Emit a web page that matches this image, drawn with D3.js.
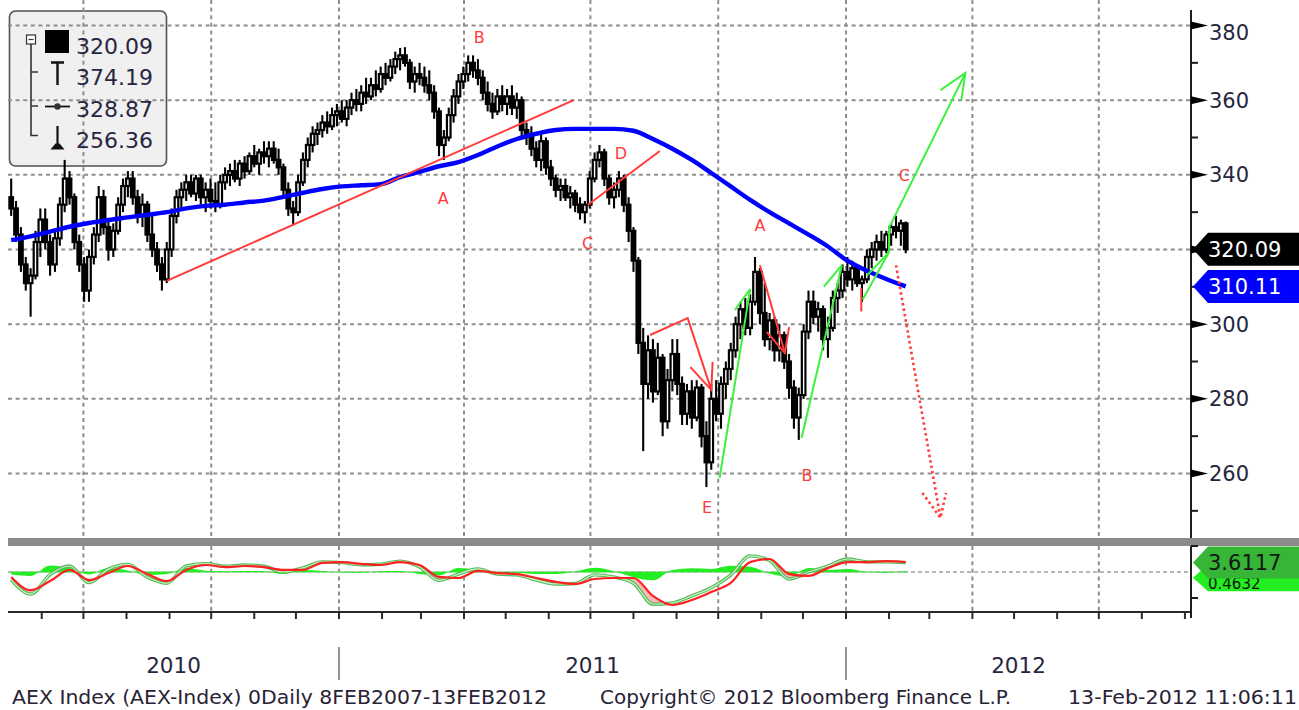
<!DOCTYPE html>
<html><head><meta charset="utf-8">
<script src="https://cdn.jsdelivr.net/npm/d3@7"></script>
<style>html,body{margin:0;padding:0;background:#fff;}svg{display:block;font-family:"DejaVu Sans",sans-serif;}</style>
</head><body>
<svg id="c" width="1299" height="710"></svg>
<script>
// ---------------- DATA ----------------
const candleStart = "2010-05-10";   // first bar (each bar = 3.5 calendar days)
const candleStepDays = 3.5;
const opens = [334,331,324,316,311,313,322,328,322,316, 323,332,339,334,322,316,309,318,324,334, 326,320,325,332,337,339,334,329,332,324, 320,316,312,320,329,334,336,338,335,339, 334,336,333,332,338,340,341,339,343,341, 345,343,346,345,347,344,342,336,331,330, 338,344,348,351,352,354,353,356,357,355, 358,360,359,362,361,364,363,367,366,369, 371,372,370,365,367,366,364,362,357,348, 350,356,361,365,367,370,368,366,362,359, 357,361,359,361,358,360,352,351,347,344, 349,342,339,336,337,334,335,332,330,332, 339,344,346,339,334,336,339,332,325,317, 295,284,293,282,291,274,285,292,284,276, 282,275,283,270,263,280,276,284,288,293, 300,304,299,306,314,303,296,301,293,297, 290,283,275,281,298,306,302,304,296,299, 307,309,314,312,315,311,312,318,320,322, 320,324,326,325,327];
const highs = [339,333,326,318,315,325,331,331,324,325, 334,344,341,335,324,318,320,326,337,336, 328,327,334,339,341,341,336,335,333,329, 322,318,322,331,336,338,340,340,340,340, 338,339,338,340,342,343,344,344,345,346, 348,347,349,349,349,347,343,338,333,340, 346,350,353,354,356,357,358,359,360,360, 362,363,364,366,366,368,369,370,371,373, 374,374.19,371,369,370,369,368,364,358,352, 358,363,367,369,372,372,371,368,365,362, 363,364,363,364,362,361,354,353,349,351, 350,344,340,339,339,337,336,334,333,341, 346,348,347,340,338,341,340,334,326,318, 299,297,296,295,292,288,296,296,286,284, 285,285,284,274,284,285,286,290,295,302, 306,307,308,318,315,311,303,302,300,298, 292,285,283,300,309,309,306,305,302,309, 311,316,318,317,316,313,320,322,324,325, 325,327,329,328,327.5];
const lows = [329,322,314,309,302,312,318,320,313,314, 321,330,332,320,314,306,306,316,322,324, 317,318,324,330,334,332,327,326,322,318, 314,309,311,318,327,331,333,334,333,332, 330,331,330,331,336,337,338,337,339,340, 342,340,343,342,343,340,334,329,326.5,329, 337,342,346,348,350,351,352,353,354,353, 356,357,357,359,360,361,362,364,365,367, 368,369,363,362,364,362,360,355,345,344, 349,354,359,363,365,366,364,360,357,355, 356,357,356,356,355,350,348,345,342,341, 340,337,334,333,333,331,330,328,327,331, 338,342,337,332,331,334,330,322,314,292, 266,280,279,281,270,272,282,281,273,273, 272,274,267,256.36,261,274,272,280,285,291, 296,297,297,305,300,294,293,290,290,288, 280,272,269,280,296,300,298,293,291,298, 303,307,310,309,310,306,311,315,317,318, 319,321,323,321,319];
const closes = [331,324,316,311,313,322,328,322,316,323, 332,339,334,322,316,309,318,324,334,326, 320,325,332,337,339,334,329,332,324,320, 316,312,320,329,334,336,338,335,339,334, 336,333,332,338,340,341,339,343,341,345, 343,346,345,347,344,342,336,331,330,338, 344,348,351,352,354,353,356,357,355,358, 360,359,362,361,364,363,367,366,369,371, 372,370,365,367,366,364,362,357,348,350, 356,361,365,367,370,368,366,362,359,357, 361,359,361,358,360,352,351,347,344,349, 342,339,336,337,334,335,332,330,332,339, 344,346,339,334,336,339,332,325,317,295, 284,293,282,291,274,285,292,284,276,282, 275,283,270,263,280,276,284,288,293,300, 304,299,306,314,303,296,301,293,297,290, 283,275,281,298,306,302,304,296,299,307, 309,314,312,315,311,312,318,320,322,320, 324,326,325,327,320.09];

// indicator series sampled every 4th bar
const indicatorStride = 4;
const maValues = [322.5,323.5,324.8,326.1,327.1,327.9,328.6,329.3,330.0,331.0, 331.7,332.0,332.6,333.1,334.1,335.2,336.2,336.9,337.2,337.5, 339.4,340.8,342.3,343.4,345.3,347.6,349.6,351.0,352.0,352.3, 352.3,352.3,351.8,349.6,347.0,344.0,340.5,336.9,333.3,330.0, 327.0,324.0,320.8,317.0,314.3,312.1,310.11];
const signalValues = [-1.9,-7.0,-3.5,0.8,-3.1,-0.4,2.3,-0.8,-3.5,0.8, 2.7,1.9,2.3,1.9,0.8,0.8,3.5,3.8,3.1,2.7, 3.8,2.7,-1.9,-2.3,0.4,-0.4,-0.8,-2.3,-3.8,-4.6, -2.7,-2.3,-2.3,-9.2,-12.7,-10.8,-7.7,-4.2,3.8,5.0, -0.8,-1.5,1.5,3.8,3.8,4.2,3.8];
const macdValues = [-2.9,-8.5,-1.0,2.3,-4.1,1.1,2.9,-2.0,-4.3,2.3, 3.2,2.2,2.7,2.2,0.0,1.6,3.9,3.6,2.8,3.0, 4.2,1.9,-3.2,-0.8,1.2,-0.8,-1.1,-3.1,-4.6,-4.4, -1.1,-2.0,-4.3,-12.4,-11.9,-9.2,-6.1,-1.2,6.2,4.4, -2.7,0.0,2.3,5.0,3.9,3.9,3.6117];
const histValues = [-1.0,-1.5,2.5,1.5,-1.0,1.5,0.6,-1.2,-0.8,1.5, 0.5,0.3,0.4,0.3,-0.8,0.8,0.4,-0.2,-0.3,0.3, 0.4,-0.8,-1.3,1.5,0.8,-0.4,-0.3,-0.8,-0.8,0.2, 1.6,0.3,-2.0,-3.2,0.8,1.4,1.2,2.4,2.0,-0.6, -1.9,1.5,0.8,1.2,0.1,-0.3,0.4632];

const priceTicks = [380,360,340,320,300,280,260];
const priceMinorTicks = [370,350,330,310,290,270,250];
const lowerMinorTicks = [10,-10];
const legendValues = ["320.09","374.19","328.87","256.36"];
const lastPrice = 320.09, lastMA = 310.11, lastMacd = 3.6117, lastHist = 0.4632;
const yearLabels = ["2010","2011","2012"];
const footerTexts = ["AEX Index (AEX-Index) 0Daily 8FEB2007-13FEB2012","Copyright\u00A9 2012 Bloomberg Finance L.P.","13-Feb-2012 11:06:11"];

// hand-drawn analyst annotations, in (date, price)
const redLines = [
  [["2010-08-30",311.6],["2011-06-19",360.0]],
  [["2011-06-29",331.9],["2011-08-20",346.4]],
  [["2011-08-13",297.1],["2011-09-09",301.6],["2011-09-26",282.4]],
  [["2011-09-11",288.5],["2011-09-26",282.4],["2011-09-27",289.9]],
  [["2011-10-31",315.8],["2011-11-18",292.3]],
  [["2011-11-05",297.9],["2011-11-18",292.3],["2011-11-21",299.2]],
  [["2012-01-12",309.7],["2012-01-12",303.4]]
];
const redDotted = [
  [["2012-02-06",315.8],["2012-03-09",248.1]],
  [["2012-02-25",254.8],["2012-03-09",248.1],["2012-03-13",254.8]]
];
const greenLines = [
  [["2011-10-02",258.8],["2011-10-24",309.4]],
  [["2011-10-13",303.8],["2011-10-24",309.4]],
  [["2011-11-30",269.5],["2011-12-29",315.8]],
  [["2011-12-16",310.0],["2011-12-29",315.8]],
  [["2012-01-13",306.6],["2012-02-01",319.3]],
  [["2012-01-16",313.0],["2012-02-01",319.3]],
  [["2012-02-01",319.3],["2012-02-01",325.8],["2012-03-27",367.3]],
  [["2012-03-09",362.7],["2012-03-27",367.3],["2012-03-24",360.0]]
];
const waveLabels = [
  ["A","2011-03-17",333.8],["B","2011-04-12",376.9],["C","2011-06-29",321.7],["D","2011-07-23",345.8],
  ["E","2011-09-23",251.0],["A","2011-10-31",326.6],["B","2011-12-04",259.6],["C","2012-02-12",340.0]
];

// ---------------- LAYOUT ----------------
const parse = d3.timeParse("%Y-%m-%d");
const svg = d3.select("#c");
const L = 8, R = 1191, MT = 0, MB = 538, LT = 546, LB = 612;
const x = d3.scaleTime().domain([parse("2011-01-01"), parse("2012-01-01")]).range([339, 846]);
const y = d3.scaleLinear().domain([260, 380]).range([473.5, 25.5]);
const yL = d3.scaleLinear().domain([-10, 10]).range([598, 546]);
const t0 = parse(candleStart);
const candleDates = closes.map((_, i) => new Date(+t0 + i * candleStepDays * 864e5));
const indDates = maValues.map((_, k) => candleDates[Math.min(k * indicatorStride, closes.length - 1)]);
const txtCol = "#262640";

const defs = svg.append("defs");
defs.append("clipPath").attr("id","clipMain").append("rect").attr("x",L).attr("y",MT).attr("width",R-L).attr("height",MB-MT);
defs.append("clipPath").attr("id","clipLow").append("rect").attr("x",L).attr("y",LT).attr("width",R-L).attr("height",LB-LT);

// legend background
svg.append("rect").attr("x",9.5).attr("y",11).attr("width",157).attr("height",155).attr("rx",6)
  .attr("fill","#f0f0f0").attr("stroke","#505050").attr("stroke-width",1.6);

// grid
const gridCol = "#8e8e8e";
const months = d3.timeMonth.range(parse("2010-05-01"), parse("2012-10-01")).filter(m => x(m) > L && x(m) < R);
const quarters = months.filter(m => m.getMonth() % 3 === 0);
svg.append("g").selectAll("line").data(priceTicks).join("line")
  .attr("x1",L).attr("x2",R).attr("y1",d=>y(d)).attr("y2",d=>y(d))
  .attr("stroke",gridCol).attr("stroke-width",2).attr("stroke-dasharray","4,3.6");
svg.append("g").selectAll("line").data(quarters).join("line")
  .attr("x1",d=>x(d)).attr("x2",d=>x(d)).attr("y1",MT).attr("y2",MB)
  .attr("stroke",gridCol).attr("stroke-width",2).attr("stroke-dasharray","4,3.6");
svg.append("g").selectAll("line").data(quarters).join("line")
  .attr("x1",d=>x(d)).attr("x2",d=>x(d)).attr("y1",LT).attr("y2",LB)
  .attr("stroke",gridCol).attr("stroke-width",2).attr("stroke-dasharray","4,3.6");

// candles
const gC = svg.append("g").attr("clip-path","url(#clipMain)");
const idx = d3.range(closes.length);
gC.selectAll("line.w").data(idx).join("line").attr("class","w")
  .attr("x1",i=>x(candleDates[i])).attr("x2",i=>x(candleDates[i]))
  .attr("y1",i=>y(highs[i])).attr("y2",i=>y(lows[i]))
  .attr("stroke","#000").attr("stroke-width",2.1);
gC.selectAll("rect.b").data(idx).join("rect").attr("class","b")
  .attr("x",i=>x(candleDates[i])-1.8).attr("width",3.6)
  .attr("y",i=>y(Math.max(opens[i],closes[i])))
  .attr("height",i=>Math.max(1,Math.abs(y(opens[i])-y(closes[i]))))
  .attr("fill",i=>closes[i]>=opens[i]?"#fff":"#000")
  .attr("stroke","#000").attr("stroke-width",2.2);

// moving average
gC.append("path").datum(maValues)
  .attr("d", d3.line().x((v,k)=>x(indDates[k])).y(v=>y(v)).curve(d3.curveMonotoneX))
  .attr("fill","none").attr("stroke","#0000ff").attr("stroke-width",4.4).attr("stroke-linejoin","round");

// annotations
const gA = svg.append("g").attr("clip-path","url(#clipMain)");
const pl = d3.line().x(p=>x(parse(p[0]))).y(p=>y(p[1]));
gA.selectAll("path.r").data(redLines).join("path").attr("class","r").attr("d",pl)
  .attr("fill","none").attr("stroke","#ff3b3b").attr("stroke-width",2);
gA.selectAll("path.rd").data(redDotted).join("path").attr("class","rd").attr("d",pl)
  .attr("fill","none").attr("stroke","#ff3b3b").attr("stroke-width",2.6).attr("stroke-dasharray","2.5,3");
gA.selectAll("path.g").data(greenLines).join("path").attr("class","g").attr("d",pl)
  .attr("fill","none").attr("stroke","#3ef03e").attr("stroke-width",2);
gA.selectAll("text").data(waveLabels).join("text")
  .attr("x",d=>x(parse(d[1]))).attr("y",d=>y(d[2])+6).attr("text-anchor","middle")
  .attr("font-size",16).attr("fill","#ff3b3b").text(d=>d[0]);

// separator bar
svg.append("rect").attr("x",L).attr("y",MB).attr("width",1299-L).attr("height",LT-MB).attr("fill","#8a8a8a");

// ---------------- lower panel ----------------
const gL = svg.append("g").attr("clip-path","url(#clipLow)");
gL.append("line").attr("x1",L).attr("x2",R).attr("y1",yL(0)).attr("y2",yL(0))
  .attr("stroke","#a0a0a0").attr("stroke-width",1.5).attr("stroke-dasharray","4,3");
gL.append("line").attr("x1",L).attr("x2",x(indDates[indDates.length-1])).attr("y1",yL(0)).attr("y2",yL(0))
  .attr("stroke","#8fd88f").attr("stroke-width",1.6);
gL.append("path").datum(histValues)
  .attr("d", d3.area().x((v,k)=>x(indDates[k])).y0(yL(0)).y1(v=>yL(v)).curve(d3.curveMonotoneX))
  .attr("fill","#22ee22");
gL.append("path").datum(d3.range(macdValues.length))
  .attr("d", d3.area().x(k=>x(indDates[k])).y0(k=>yL(signalValues[k])).y1(k=>yL(Math.min(macdValues[k],signalValues[k]))).curve(d3.curveMonotoneX))
  .attr("fill","#f6b8b8");
const mline = d3.line().x((v,k)=>x(indDates[k])).y(v=>yL(v)).curve(d3.curveMonotoneX);
gL.append("path").datum(macdValues).attr("d",mline).attr("fill","none").attr("stroke","#55b855").attr("stroke-width",3.4);
gL.append("path").datum(macdValues).attr("d",mline).attr("fill","none").attr("stroke","#c9f3c9").attr("stroke-width",1.2);
gL.append("path").datum(signalValues).attr("d",mline).attr("fill","none").attr("stroke","#ff2020").attr("stroke-width",2.2);

// x axis
svg.append("line").attr("x1",L).attr("x2",R+1).attr("y1",LB).attr("y2",LB).attr("stroke","#2a2a2a").attr("stroke-width",2);
svg.append("g").selectAll("line").data(months).join("line")
  .attr("x1",d=>x(d)).attr("x2",d=>x(d)).attr("y1",LB).attr("y2",LB+7)
  .attr("stroke","#2a2a2a").attr("stroke-width",2);
const yearStarts = [parse("2011-01-01"), parse("2012-01-01")];
svg.append("g").selectAll("line").data(yearStarts).join("line")
  .attr("x1",d=>x(d)).attr("x2",d=>x(d)).attr("y1",647).attr("y2",680)
  .attr("stroke","#7a7a7a").attr("stroke-width",1.6);
const yearSpans = [[L, x(yearStarts[0])],[x(yearStarts[0]), x(yearStarts[1])],[x(yearStarts[1]), R]];
svg.append("g").selectAll("text").data(yearLabels).join("text")
  .attr("x",(d,i)=>(yearSpans[i][0]+yearSpans[i][1])/2).attr("y",673).attr("text-anchor","middle")
  .attr("font-size",21.5).attr("fill",txtCol).text(d=>d);

// footer
const footX = [12, 600, 1068], footW = [535, 411, 229];
svg.append("g").selectAll("text").data(footerTexts).join("text")
  .attr("x",(d,i)=>footX[i]).attr("y",704).attr("font-size",19.5)
  .attr("textLength",(d,i)=>footW[i]).attr("lengthAdjust","spacingAndGlyphs")
  .attr("fill","#2a2236").text(d=>d);

// right axis
svg.append("line").attr("x1",R).attr("x2",R).attr("y1",10).attr("y2",MB).attr("stroke","#1e1e1e").attr("stroke-width",2);
svg.append("line").attr("x1",R).attr("x2",R).attr("y1",LT).attr("y2",LB+6).attr("stroke","#1e1e1e").attr("stroke-width",2);
svg.append("g").selectAll("path").data(priceTicks).join("path")
  .attr("d",d=>`M${R},${y(d)-4}L${R},${y(d)+4}L${R+17},${y(d)}Z`).attr("fill","#000");
svg.append("g").selectAll("line").data(priceMinorTicks.filter(v=>y(v)<MB-4)).join("line")
  .attr("x1",R).attr("x2",R+7).attr("y1",d=>y(d)).attr("y2",d=>y(d)).attr("stroke","#1e1e1e").attr("stroke-width",2);
// tick labels hidden behind the value tags are not drawn
const tagYs = [y(lastPrice), y(lastMA)];
svg.append("g").selectAll("text").data(priceTicks.filter(v=>tagYs.every(t=>Math.abs(y(v)-t)>20))).join("text")
  .attr("x",R+18).attr("y",d=>Math.max(y(d)+7.5,40)).attr("font-size",21).attr("fill",txtCol).text(d=>d);
svg.append("g").selectAll("line").data(lowerMinorTicks).join("line")
  .attr("x1",R).attr("x2",R+7).attr("y1",d=>yL(d)).attr("y2",d=>yL(d)).attr("stroke","#1e1e1e").attr("stroke-width",2);

function tag(cy, half, fill, tcol, label, fs, baseOff, stroke) {
  const g = svg.append("g");
  g.append("path").attr("d",`M${R+2},${cy}L${R+17},${cy-half}L1302,${cy-half}L1302,${cy+half}L${R+17},${cy+half}Z`)
    .attr("fill",fill).attr("stroke",stroke||"none").attr("stroke-width",1);
  g.append("text").attr("x",R+17).attr("y",cy+baseOff).attr("font-size",fs).attr("fill",tcol).text(label);
}
tag(y(lastPrice), 16.5, "#000", "#fff", lastPrice.toFixed(2), 21, 7.5);
tag(y(lastMA), 16.5, "#0000ff", "#fff", lastMA.toFixed(2), 21, 7.5);
tag(yL(lastHist)+7, 13.5, "#22ee22", "#111", lastHist.toFixed(4), 15, 11);
tag(yL(lastMacd), 16, "#36b536", "#151515", lastMacd.toFixed(4), 21, 7);

// legend contents
const lg = svg.append("g");
lg.append("rect").attr("x",26.5).attr("y",35).attr("width",9).attr("height",9).attr("fill","#fff").attr("stroke","#333").attr("stroke-width",1.2);
lg.append("line").attr("x1",28.5).attr("x2",33.5).attr("y1",39.5).attr("y2",39.5).attr("stroke","#333").attr("stroke-width",1.2);
lg.append("path").attr("d","M31,44V135.5H38M31,72H38M31,106H38").attr("fill","none").attr("stroke","#333").attr("stroke-width",1.6);
lg.append("rect").attr("x",45).attr("y",30).attr("width",24).attr("height",23).attr("fill","#000");
lg.append("path").attr("d","M51,62.5H64M57.5,62.5V85").attr("stroke","#111").attr("stroke-width",2.4).attr("fill","none");
lg.append("line").attr("x1",45).attr("x2",70).attr("y1",106.5).attr("y2",106.5).attr("stroke","#111").attr("stroke-width",1.8);
lg.append("circle").attr("cx",57.5).attr("cy",106.5).attr("r",3.2).attr("fill","#333");
lg.append("path").attr("d","M57.5,126V146").attr("stroke","#111").attr("stroke-width",2.2);
lg.append("path").attr("d","M50.5,149.5H64.5L59.5,143.5H55.5Z").attr("fill","#111");
lg.selectAll("text").data(legendValues).join("text")
  .attr("x",76).attr("y",(d,i)=>53.5+i*31.5).attr("font-size",22).attr("fill",txtCol).text(d=>d);
</script>
</body></html>
